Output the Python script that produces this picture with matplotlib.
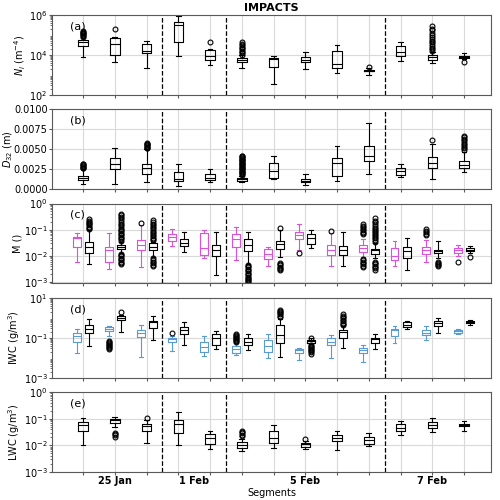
import numpy as np
import matplotlib
matplotlib.use("Agg")
import matplotlib.pyplot as plt
from matplotlib.ticker import FormatStrFormatter

# segment numbers, day labels and flight separators
segments = list(range(1, 14))
day_pos = [2, 4.5, 8, 12]
day_labels = ['25 Jan', '1 Feb', '5 Feb', '7 Feb']
day_breaks = [3.5, 5.5, 10.5]

# box rows: [whislo, q1, median, q3, whishi]
ni_stats = [[7.7e3, 2.65e4, 4.2e4, 5.6e4, 7.0e4], [4.4e3, 1.0e4, 3.5e4, 7.3e4, 8.0e4],
            [2.1e3, 1.2e4, 1.6e4, 3.5e4, 5.0e4], [8.7e3, 4.7e4, 3.3e5, 4.4e5, 9.3e5],
            [3.3e3, 5.8e3, 9.3e3, 1.7e4, 2.0e4], [2.2e3, 4.4e3, 5.8e3, 6.9e3, 9.5e3],
            [350, 2.5e3, 6.0e3, 7.2e3, 9.3e3], [1.9e3, 4.4e3, 5.9e3, 7.7e3, 1.35e4],
            [1.2e3, 2.3e3, 3.6e3, 1.6e4, 3.2e4], [980, 1.5e3, 1.65e3, 1.85e3, 2.1e3],
            [4.7e3, 8.7e3, 1.45e4, 2.8e4, 4.7e4], [4.0e3, 5.9e3, 8.3e3, 1.0e4, 1.35e4],
            [6.3e3, 7.1e3, 8.3e3, 9.3e3, 1.2e4]]
ni_fliers = [[8e4, 9e4, 1.0e5, 1.1e5, 1.2e5, 1.3e5, 1.4e5, 1.5e5], [1.9e5], [], [], [4.2e4],
             [1.05e4, 1.2e4, 1.4e4, 1.6e4, 1.9e4, 2.2e4, 2.6e4, 3.0e4, 3.6e4, 4.2e4],
             [], [], [], [2.5e3], [],
             [1.6e4, 1.9e4, 2.3e4, 2.8e4, 3.4e4, 4.2e4, 5.2e4, 6.5e4, 8e4, 1.0e5, 1.3e5, 1.7e5, 2.1e5, 2.7e5],
             [4.4e3]]

d32_stats = [[0.0007, 0.0011, 0.0014, 0.0017, 0.0025], [0.00065, 0.0025, 0.0032, 0.0039, 0.0051],
             [0.00085, 0.0019, 0.0027, 0.0032, 0.0050], [0.00037, 0.0010, 0.00126, 0.0021, 0.0032],
             [0.0009, 0.00113, 0.00146, 0.00195, 0.0025], [0.00085, 0.00106, 0.00126, 0.00146, 0.0017],
             [0.00126, 0.00146, 0.0023, 0.0033, 0.0042], [0.00057, 0.00085, 0.00106, 0.00126, 0.0019],
             [0.00098, 0.0017, 0.0033, 0.0039, 0.0054], [0.0019, 0.0035, 0.0041, 0.0054, 0.0083],
             [0.0015, 0.0018, 0.0023, 0.0027, 0.0032], [0.00126, 0.0027, 0.0033, 0.0040, 0.0057],
             [0.0022, 0.0026, 0.0030, 0.0035, 0.0047]]
d32_fliers = [[0.0026, 0.0027, 0.0028, 0.0029, 0.0030, 0.0031, 0.0032], [],
              [0.0051, 0.0052, 0.0053, 0.0054, 0.0055, 0.0056, 0.0057, 0.0058], [], [],
              [0.0018, 0.0019, 0.0020, 0.0021, 0.0022, 0.0023, 0.0024, 0.0025, 0.0026, 0.0027,
               0.0028, 0.0029, 0.0030, 0.0031, 0.0032, 0.0033, 0.0034, 0.0035, 0.0036, 0.0037,
               0.0038, 0.0039, 0.0040, 0.0041, 0.0042],
              [], [], [], [], [], [0.0062],
              [0.0049, 0.0051, 0.0053, 0.0055, 0.0057, 0.0059, 0.0061, 0.0063, 0.0065, 0.0067]]

m_col_stats = [[0.006, 0.021, 0.049, 0.054, 0.076], [0.0031, 0.006, 0.017, 0.021, 0.072],
               [0.0037, 0.017, 0.026, 0.040, 0.15], [0.024, 0.038, 0.054, 0.068, 0.11],
               [0.0085, 0.0105, 0.02, 0.075, 0.095], [0.0066, 0.022, 0.044, 0.068, 0.13],
               [0.0042, 0.0074, 0.0115, 0.018, 0.021], [0.017, 0.043, 0.063, 0.083, 0.16],
               [0.0039, 0.0108, 0.017, 0.025, 0.074], [0.009, 0.0137, 0.019, 0.025, 0.045],
               [0.0042, 0.007, 0.010, 0.020, 0.037], [0.006, 0.0115, 0.016, 0.021, 0.04],
               [0.0098, 0.0129, 0.016, 0.019, 0.026]]
m_col_fliers = [[], [], [0.18], [], [], [], [], [0.013], [0.091],
                [0.066, 0.075, 0.085, 0.095, 0.11, 0.125, 0.14, 0.16,
                 0.0076, 0.0068, 0.006, 0.0053, 0.0047, 0.0042, 0.0038],
                [], [0.06, 0.07, 0.08, 0.09, 0.106], [0.006]]

m_stats = [[0.0048, 0.0126, 0.021, 0.035, 0.10], [0.013, 0.018, 0.022, 0.026, 0.035],
           [0.009, 0.017, 0.022, 0.030, 0.035], [0.0145, 0.024, 0.032, 0.043, 0.079],
           [0.0019, 0.010, 0.017, 0.025, 0.079], [0.005, 0.015, 0.027, 0.045, 0.08],
           [0.009, 0.018, 0.028, 0.037, 0.097], [0.019, 0.028, 0.047, 0.066, 0.097],
           [0.0039, 0.0108, 0.017, 0.024, 0.079], [0.008, 0.0118, 0.016, 0.018, 0.03],
           [0.0029, 0.0081, 0.0153, 0.021, 0.049], [0.0085, 0.0129, 0.0153, 0.017, 0.037],
           [0.013, 0.015, 0.017, 0.019, 0.024]]
m_fliers = [[0.11, 0.12, 0.13, 0.145, 0.16, 0.18, 0.2, 0.22, 0.25],
            [0.038, 0.042, 0.047, 0.053, 0.06, 0.068, 0.077, 0.087, 0.1, 0.11, 0.13, 0.15, 0.17,
             0.2, 0.23, 0.27, 0.31, 0.36, 0.4,
             0.0115, 0.0105, 0.0095, 0.0085, 0.0076, 0.0068, 0.006, 0.0053, 0.0047],
            [0.04, 0.045, 0.05, 0.057, 0.065, 0.075, 0.085, 0.1, 0.115, 0.13, 0.15, 0.17, 0.2, 0.23,
             0.008, 0.007, 0.006, 0.0052, 0.0045, 0.0039],
            [], [],
            [0.0045, 0.004, 0.0036, 0.0032, 0.0028, 0.0025, 0.0022, 0.002, 0.0018, 0.0016, 0.0014,
             0.0013, 0.0012, 0.0011, 0.001],
            [0.12, 0.0054, 0.0048, 0.0043, 0.0038, 0.0034, 0.0031, 0.0029],
            [], [],
            [0.035, 0.04, 0.046, 0.053, 0.06, 0.07, 0.08, 0.092, 0.105, 0.12, 0.14, 0.16, 0.19,
             0.22, 0.27, 0.006, 0.0053, 0.0047, 0.0042, 0.0037, 0.0033, 0.0029],
            [], [0.006, 0.0053, 0.0047, 0.0043, 0.0039], [0.0093]]

iwc_col_stats = [[0.018, 0.063, 0.13, 0.18, 0.29], [0.13, 0.22, 0.29, 0.33, 0.40],
                 [0.011, 0.11, 0.18, 0.24, 0.43], [0.022, 0.063, 0.083, 0.10, 0.126],
                 [0.012, 0.02, 0.035, 0.063, 0.126], [0.014, 0.018, 0.027, 0.038, 0.055],
                 [0.0093, 0.02, 0.038, 0.076, 0.16], [0.0076, 0.018, 0.024, 0.027, 0.032],
                 [0.01, 0.043, 0.063, 0.10, 0.135], [0.0063, 0.018, 0.024, 0.032, 0.046],
                 [0.052, 0.126, 0.24, 0.29, 0.38], [0.076, 0.135, 0.18, 0.24, 0.38],
                 [0.146, 0.18, 0.22, 0.24, 0.29]]
iwc_col_fliers = [[], [0.07, 0.062, 0.055, 0.049, 0.044, 0.039, 0.035, 0.031, 0.027], [],
                  [0.18], [], [0.063, 0.07, 0.078, 0.087, 0.097, 0.108, 0.12, 0.135, 0.146],
                  [], [], [], [], [], [], []]

iwc_stats = [[0.038, 0.18, 0.29, 0.43, 0.86], [0.2, 0.77, 1.0, 1.2, 1.35],
             [0.076, 0.32, 0.59, 0.71, 1.2], [0.043, 0.146, 0.24, 0.33, 0.59],
             [0.026, 0.043, 0.10, 0.16, 0.22], [0.025, 0.043, 0.065, 0.095, 0.146],
             [0.011, 0.052, 0.135, 0.43, 0.86], [0.05, 0.056, 0.068, 0.076, 0.095],
             [0.032, 0.10, 0.2, 0.24, 0.38], [0.027, 0.056, 0.083, 0.10, 0.15],
             [0.26, 0.35, 0.46, 0.59, 0.68], [0.18, 0.38, 0.52, 0.68, 0.93],
             [0.46, 0.55, 0.62, 0.68, 0.77]]
iwc_fliers = [[], [2.0], [], [], [], [],
              [1.1, 1.3, 1.5, 1.75, 2.0, 2.3, 2.6],
              [0.1, 0.043, 0.039, 0.035, 0.031, 0.028, 0.025, 0.022, 0.019, 0.016],
              [0.43, 0.5, 0.58, 0.68, 0.8, 0.93, 1.1, 1.3, 1.6],
              [], [], [], []]

lwc_stats = [[0.0105, 0.036, 0.06, 0.075, 0.106], [0.05, 0.069, 0.087, 0.10, 0.115],
             [0.012, 0.036, 0.052, 0.065, 0.087], [0.01, 0.03, 0.065, 0.092, 0.18],
             [0.0071, 0.0115, 0.019, 0.026, 0.036], [0.0061, 0.0082, 0.0105, 0.0133, 0.018],
             [0.0079, 0.0125, 0.019, 0.036, 0.06], [0.0071, 0.0087, 0.011, 0.0123, 0.014],
             [0.0069, 0.0142, 0.019, 0.025, 0.036], [0.0093, 0.0115, 0.0154, 0.021, 0.029],
             [0.024, 0.034, 0.046, 0.062, 0.08], [0.032, 0.045, 0.06, 0.075, 0.109],
             [0.036, 0.053, 0.06, 0.065, 0.08]]
lwc_fliers = [[], [0.03, 0.027, 0.024, 0.021], [0.106], [], [],
              [0.022, 0.025, 0.028, 0.031, 0.034], [], [0.017], [], [], [], [], []]

MAGENTA = '#dd4fdd'
BLUE = '#5b9bd5'


def to_bxp(rows, fliers):
    return [dict(whislo=r[0], q1=r[1], med=r[2], q3=r[3], whishi=r[4], fliers=f)
            for r, f in zip(rows, fliers)]


def draw_boxes(ax, rows, fliers, color, shift=0.0, width=0.3):
    props = dict(color=color, lw=0.8)
    ax.bxp(to_bxp(rows, fliers), positions=[s + shift for s in segments], widths=width,
           boxprops=props, whiskerprops=props, capprops=props, medianprops=props,
           flierprops=dict(marker='o', markerfacecolor='none', markeredgecolor='k',
                           markersize=3.5, markeredgewidth=0.8),
           manage_ticks=False)


plt.rcParams['font.size'] = 7
fig, axes = plt.subplots(5, 1, figsize=(5, 5), dpi=100, sharex=True)
fig.subplots_adjust(left=0.104, right=0.982, top=0.97, bottom=0.056, hspace=0.18)

ax = axes[0]
ax.set_yscale('log')
draw_boxes(ax, ni_stats, ni_fliers, 'k')
ax.set_ylim(1e2, 1e6)
ax.set_yticks([1e2, 1e4, 1e6])
ax.set_ylabel('$N_i$ (m$^{-4}$)', labelpad=1)
ax.set_title('IMPACTS', fontweight='bold', fontsize=8, pad=3)

ax = axes[1]
draw_boxes(ax, d32_stats, d32_fliers, 'k')
ax.set_ylim(0, 0.01)
ax.set_yticks([0, 0.0025, 0.005, 0.0075, 0.01])
ax.yaxis.set_major_formatter(FormatStrFormatter('%.4f'))
ax.set_ylabel('$D_{32}$ (m)', labelpad=1)

ax = axes[2]
ax.set_yscale('log')
draw_boxes(ax, m_col_stats, m_col_fliers, MAGENTA, -0.19, 0.25)
draw_boxes(ax, m_stats, m_fliers, 'k', 0.19, 0.25)
ax.set_ylim(8.7e-4, 1)
ax.set_yticks([1e-3, 1e-2, 1e-1, 1e0])
ax.set_ylabel('M ()', labelpad=1)

ax = axes[3]
ax.set_yscale('log')
draw_boxes(ax, iwc_col_stats, iwc_col_fliers, BLUE, -0.19, 0.25)
draw_boxes(ax, iwc_stats, iwc_fliers, 'k', 0.19, 0.25)
ax.set_ylim(1e-3, 10)
ax.set_yticks([1e-3, 1e-1, 1e1])
ax.set_ylabel('IWC (g/m$^3$)', labelpad=1)

ax = axes[4]
ax.set_yscale('log')
draw_boxes(ax, lwc_stats, lwc_fliers, 'k')
ax.set_ylim(1e-3, 1)
ax.set_yticks([1e-3, 1e-2, 1e-1, 1e0])
ax.set_ylabel('LWC (g/m$^3$)', labelpad=1)
ax.set_xlabel('Segments', labelpad=1)

labels = ['(a)', '(b)', '(c)', '(d)', '(e)']
for ax, lab in zip(axes, labels):
    ax.grid(True, which='major', color='0.85', lw=0.8)
    ax.set_axisbelow(True)
    for x in day_breaks:
        ax.axvline(x, color='k', ls='--', lw=0.9)
    ax.text(0.04, 0.86, lab, transform=ax.transAxes, fontsize=8, va='center')
    for sp in ax.spines.values():
        sp.set_color('0.35')
    ax.tick_params(axis='both', which='major', labelsize=7, width=0.8, length=2,
                   pad=1.2, color='0.35')
    ax.tick_params(axis='y', which='minor', length=1.2, color='0.35')
    ax.tick_params(axis='x', which='minor', length=0)

# keep the D32 label inside the figure
axes[1].yaxis.set_label_coords(-0.084, 0.5)

bottom = axes[-1]
bottom.set_xlim(0.02, 13.85)
bottom.set_xticks(segments)
bottom.set_xticklabels([])
bottom.xaxis.remove_overlapping_locs = False
bottom.set_xticks(day_pos, minor=True)
bottom.set_xticklabels(day_labels, minor=True, fontweight='bold', fontsize=7)
bottom.tick_params(axis='x', which='minor', pad=3)

fig.savefig('out.png', dpi=100)
